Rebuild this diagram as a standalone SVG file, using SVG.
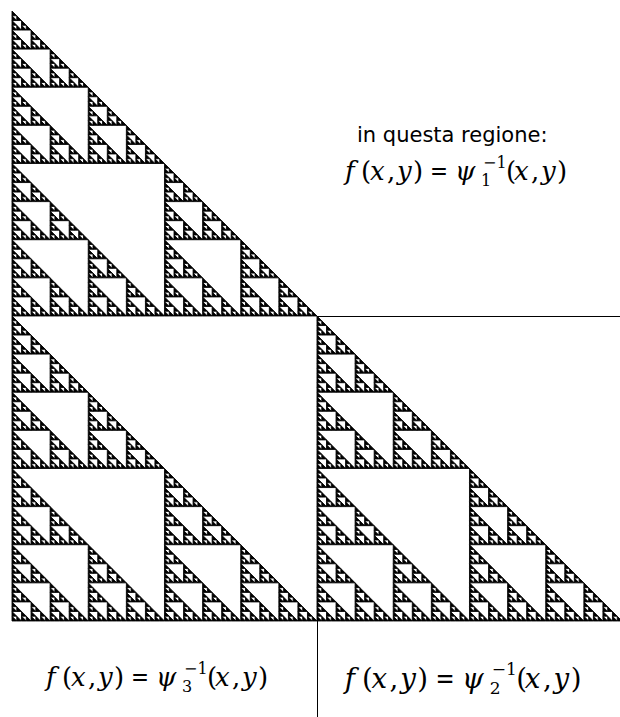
<svg xmlns="http://www.w3.org/2000/svg" width="620" height="717" viewBox="0 0 620 717">
<style>
.lbl{font-family:"DejaVu Sans","Liberation Sans",sans-serif;font-size:21px;fill:#000}
.m{font-family:"DejaVu Serif","Liberation Serif",serif;font-size:26px;fill:#000}
.i{font-style:italic}
.s{font-size:16px}
.ln{stroke:#000;stroke-width:1;fill:none}
</style>
<defs>
<path id="t0" d="M0,0V1H1Z" fill="#000" stroke="#000" stroke-width="0.18" stroke-linejoin="miter"/>
<g id="t1"><use href="#t0"/><use href="#t0" y="1"/><use href="#t0" x="1" y="1"/></g>
<g id="t2"><use href="#t1"/><use href="#t1" y="2"/><use href="#t1" x="2" y="2"/></g>
<g id="t3"><use href="#t2"/><use href="#t2" y="4"/><use href="#t2" x="4" y="4"/></g>
<g id="t4"><use href="#t3"/><use href="#t3" y="8"/><use href="#t3" x="8" y="8"/></g>
<g id="t5"><use href="#t4"/><use href="#t4" y="16"/><use href="#t4" x="16" y="16"/></g>
<g id="t6"><use href="#t5"/><use href="#t5" y="32"/><use href="#t5" x="32" y="32"/></g>
<g id="t7"><use href="#t6"/><use href="#t6" y="64"/><use href="#t6" x="64" y="64"/></g>
<g id="formulaBase">
<text class="m" y="180"><tspan class="i" x="345">f</tspan><tspan x="361">(</tspan><tspan class="i" x="370">x</tspan><tspan x="387">,</tspan><tspan class="i" x="397">y</tspan><tspan x="413">)</tspan></text>
<text class="m" x="430" y="180" textLength="18" lengthAdjust="spacingAndGlyphs">=</text>
<text class="m i" x="455" y="180">ψ</text>
<text class="m s" x="483" y="168">−1</text>
<text class="m" y="180"><tspan x="506">(</tspan><tspan class="i" x="514">x</tspan><tspan x="531">,</tspan><tspan class="i" x="541">y</tspan><tspan x="557">)</tspan></text>
</g>
</defs>
<rect width="620" height="717" fill="#fff"/>
<g id="sierpinski">
<use href="#t7" transform="translate(12,11) scale(4.7656)"/>
</g>
<g id="connectors">
<line class="ln" x1="317" y1="316.5" x2="620" y2="316.5"/>
<line class="ln" x1="317.5" y1="621" x2="317.5" y2="717" stroke="#555"/>
</g>
<g id="region1">
<text class="lbl" x="357" y="142">in questa regione:</text>
<use href="#formulaBase"/>
<text class="m s" x="481" y="186">1</text>
</g>
<g id="region3" transform="translate(-299,506)">
<use href="#formulaBase"/>
<text class="m s" x="481" y="186">3</text>
</g>
<g id="region2" transform="translate(347,687) scale(1.065) translate(-347,-179)">
<use href="#formulaBase"/>
<text class="m s" x="481" y="186">2</text>
</g>
</svg>
